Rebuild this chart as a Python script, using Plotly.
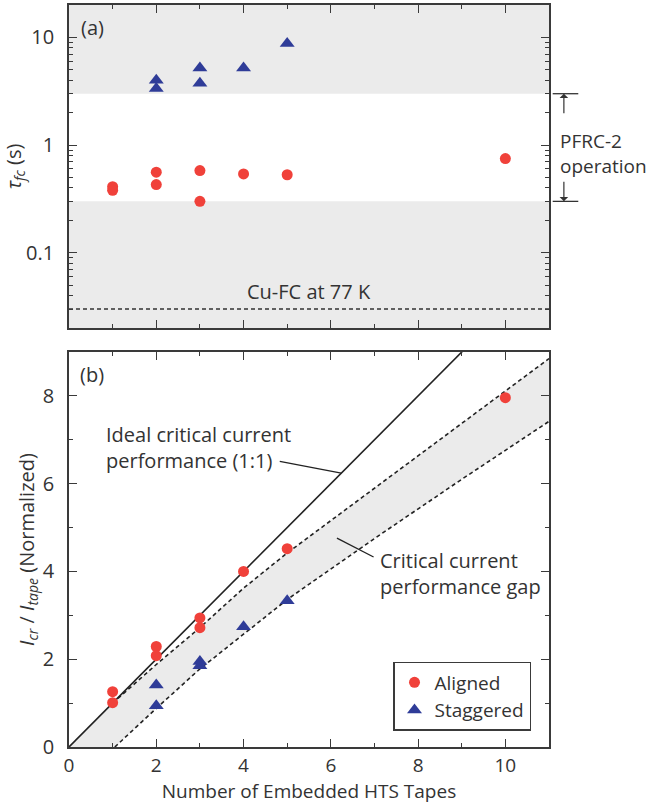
import numpy as np
import plotly.graph_objects as go

# ---------------- data ----------------
# panel (a): field-cooling time constant
x_aligned_a = [1, 1, 2, 2, 3, 3, 4, 5, 10]
tau_aligned = [0.41, 0.38, 0.56, 0.43, 0.58, 0.30, 0.54, 0.53, 0.75]
x_stag_a = [2, 2, 3, 3, 4, 5]
tau_stag = [4.0, 3.35, 5.2, 3.75, 5.2, 8.8]
op_band = [0.3, 3.0]          # PFRC-2 operation window
cu_fc = 0.03                  # Cu-FC at 77 K
tau_range = [0.02, 20]

# panel (b): normalized critical current
x_aligned_b = [1, 1, 2, 2, 3, 3, 4, 5, 10]
ic_aligned = [1.26, 1.01, 2.29, 2.08, 2.94, 2.72, 4.0, 4.52, 7.96]
x_stag_b = [2, 2, 3, 3, 4, 5]
ic_stag = [1.41, 0.94, 1.95, 1.85, 2.74, 3.33]

ideal_x = [0, 11]
ideal_y = [0, 11]
upper_x = [1, 2, 3, 4, 5, 7, 9, 11]
upper_y = [1.0, 1.88, 2.72, 3.62, 4.42, 5.9, 7.38, 8.85]
lower_x = [1.05, 2, 3, 4, 5, 7, 9, 11]
lower_y = [0.0, 0.88, 1.78, 2.58, 3.36, 4.75, 6.1, 7.42]

x_range = [0, 11]
ic_range = [0, 9]

# ---------------- style ----------------
FONT = "Open Sans"
TXT = "#333333"
AX = "#3a3a3a"
GRAY = "#ebebeb"
RED = "#f0413a"
BLUE = "#2f3c98"

fig = go.Figure()

# panel (a) background bands
fig.add_trace(go.Scatter(x=[x_range[0], x_range[1], x_range[1], x_range[0]],
                         y=[op_band[1], op_band[1], tau_range[1], tau_range[1]],
                         fill="toself", fillcolor=GRAY, mode="lines", line=dict(width=0),
                         showlegend=False, hoverinfo="skip", xaxis="x", yaxis="y"))
fig.add_trace(go.Scatter(x=[x_range[0], x_range[1], x_range[1], x_range[0]],
                         y=[tau_range[0], tau_range[0], op_band[0], op_band[0]],
                         fill="toself", fillcolor=GRAY, mode="lines", line=dict(width=0),
                         showlegend=False, hoverinfo="skip", xaxis="x", yaxis="y"))
fig.add_trace(go.Scatter(x=x_range, y=[cu_fc, cu_fc], mode="lines",
                         line=dict(color=TXT, width=1.5, dash="4px,3px"),
                         showlegend=False, hoverinfo="skip", xaxis="x", yaxis="y"))
fig.add_trace(go.Scatter(x=x_aligned_a, y=tau_aligned, mode="markers",
                         marker=dict(symbol="circle", size=11, color=RED),
                         showlegend=False, xaxis="x", yaxis="y"))
fig.add_trace(go.Scatter(x=x_stag_a, y=tau_stag, mode="markers",
                         marker=dict(symbol="triangle-up", size=13, color=BLUE),
                         showlegend=False, xaxis="x", yaxis="y"))

# panel (b) performance gap band
band_x = [0] + lower_x + upper_x[::-1] + [0]
band_y = [0] + lower_y + upper_y[::-1] + [0]
fig.add_trace(go.Scatter(x=band_x, y=band_y, fill="toself", fillcolor=GRAY,
                         mode="lines", line=dict(width=0),
                         showlegend=False, hoverinfo="skip", xaxis="x2", yaxis="y2"))
fig.add_trace(go.Scatter(x=ideal_x, y=ideal_y, mode="lines",
                         line=dict(color="#222222", width=1.6),
                         showlegend=False, hoverinfo="skip", xaxis="x2", yaxis="y2"))
fig.add_trace(go.Scatter(x=upper_x, y=upper_y, mode="lines",
                         line=dict(color="#222222", width=1.6, dash="4px,3px"),
                         showlegend=False, hoverinfo="skip", xaxis="x2", yaxis="y2"))
fig.add_trace(go.Scatter(x=lower_x, y=lower_y, mode="lines",
                         line=dict(color="#222222", width=1.6, dash="4px,3px"),
                         showlegend=False, hoverinfo="skip", xaxis="x2", yaxis="y2"))
fig.add_trace(go.Scatter(x=x_aligned_b, y=ic_aligned, mode="markers", name="Aligned",
                         marker=dict(symbol="circle", size=11, color=RED),
                         xaxis="x2", yaxis="y2"))
fig.add_trace(go.Scatter(x=x_stag_b, y=ic_stag, mode="markers", name="Staggered",
                         marker=dict(symbol="triangle-up", size=13, color=BLUE),
                         xaxis="x2", yaxis="y2"))

common = dict(showline=True, linecolor=AX, linewidth=1.6, mirror="allticks",
              ticks="inside", tickcolor=AX, tickwidth=1.3, ticklen=8,
              showgrid=False, zeroline=False, automargin=False,
              tickfont=dict(family=FONT, size=20, color=TXT))

minor_log = [v * 10.0 ** e for e in (-2, -1, 0, 1) for v in range(2, 10)]
minor_log = [v for v in minor_log if 0.02 <= v <= 20]

fig.update_layout(
    width=649, height=804,
    margin=dict(l=69, r=100, t=5, b=57),
    paper_bgcolor="white", plot_bgcolor="white",
    font=dict(family=FONT, size=19, color=TXT),
    xaxis=dict(common, domain=[0, 1], range=x_range, anchor="y",
               tickvals=[0, 2, 4, 6, 8, 10], showticklabels=False,
               minor=dict(ticks="inside", ticklen=4, dtick=1, tickcolor=AX, tickwidth=1.2)),
    yaxis=dict(common, domain=[0.5647, 1], type="log",
               range=[np.log10(tau_range[0]), np.log10(tau_range[1])], anchor="x",
               tickvals=[0.1, 1, 10], ticktext=["0.1", "1", "10"], ticklabelstandoff=9,
               minor=dict(ticks="inside", ticklen=4, tickvals=minor_log, tickcolor=AX, tickwidth=1.2),
               title=dict(text="<i>τ<sub>fc</sub></i> (s)", standoff=7,
                          font=dict(family=FONT, size=20, color=TXT))),
    xaxis2=dict(common, domain=[0, 1], range=x_range, anchor="y2",
                tickvals=[0, 2, 4, 6, 8, 10], ticklabelstandoff=0,
                tickfont=dict(family=FONT, size=19, color=TXT),
                minor=dict(ticks="inside", ticklen=4, dtick=1, tickcolor=AX, tickwidth=1.2),
                title=dict(text="Number of Embedded HTS Tapes", standoff=9,
                           font=dict(family=FONT, size=19, color=TXT))),
    yaxis2=dict(common, domain=[0, 0.5323], range=ic_range, anchor="x2",
                tickvals=[0, 2, 4, 6, 8], ticklabelstandoff=9,
                minor=dict(ticks="inside", ticklen=4, dtick=1, tickcolor=AX, tickwidth=1.2),
                title=dict(text="<i>I<sub>cr</sub></i> / <i>I<sub>tape</sub></i> (Normalized)",
                           standoff=3, font=dict(family=FONT, size=20, color=TXT))),
    legend=dict(x=0.675, y=0.1146, xanchor="left", yanchor="top",
                bgcolor="white", bordercolor=AX, borderwidth=1.5,
                font=dict(family=FONT, size=19, color=TXT), tracegroupgap=0,
                itemwidth=30),
)

ann_font = dict(family=FONT, size=20, color=TXT)
annotations = [
    dict(x=0.53, y=1.094, xref="x", yref="y", text="(a)", showarrow=False, font=ann_font),
    dict(x=0.53, y=8.48, xref="x2", yref="y2", text="(b)", showarrow=False, font=ann_font),
    dict(x=5.49, y=np.log10(cu_fc), xref="x", yref="y", yanchor="bottom", yshift=2,
         text="Cu-FC at 77 K", showarrow=False, font=ann_font),
    dict(x=1.019, y=-0.08, xref="paper", yref="y", xanchor="left", align="left",
         text="PFRC-2<br>operation", showarrow=False, font=dict(family=FONT, size=19, color=TXT)),
    dict(x=1.031, y=np.log10(op_band[1]), xref="paper", yref="y", text="",
         showarrow=True, ax=0, ay=21, arrowhead=1, arrowsize=1.2, arrowwidth=1.2, arrowcolor=TXT),
    dict(x=1.031, y=np.log10(op_band[0]), xref="paper", yref="y", text="",
         showarrow=True, ax=0, ay=-21, arrowhead=1, arrowsize=1.2, arrowwidth=1.2, arrowcolor=TXT),
    dict(x=0.8, y=6.83, xref="x2", yref="y2", xanchor="left", align="left",
         text="Ideal critical current<br>performance (1:1)", showarrow=False, font=ann_font),
    dict(x=7.08, y=3.95, xref="x2", yref="y2", xanchor="left", align="left",
         text="Critical current<br>performance gap", showarrow=False, font=ann_font),
]
fig.update_layout(annotations=annotations)

shapes = [
    dict(type="line", xref="paper", yref="y", x0=1.0077, x1=1.061, y0=op_band[1], y1=op_band[1],
         line=dict(color=TXT, width=1.3)),
    dict(type="line", xref="paper", yref="y", x0=1.0077, x1=1.061, y0=op_band[0], y1=op_band[0],
         line=dict(color=TXT, width=1.3)),
    dict(type="line", xref="x2", yref="y2", x0=4.83, y0=6.51, x1=6.24, y1=6.24,
         line=dict(color="#222222", width=1.3)),
    dict(type="line", xref="x2", yref="y2", x0=6.14, y0=4.76, x1=6.98, y1=4.33,
         line=dict(color="#222222", width=1.3)),
]
fig.update_layout(shapes=shapes)

fig.write_html("out.html")
